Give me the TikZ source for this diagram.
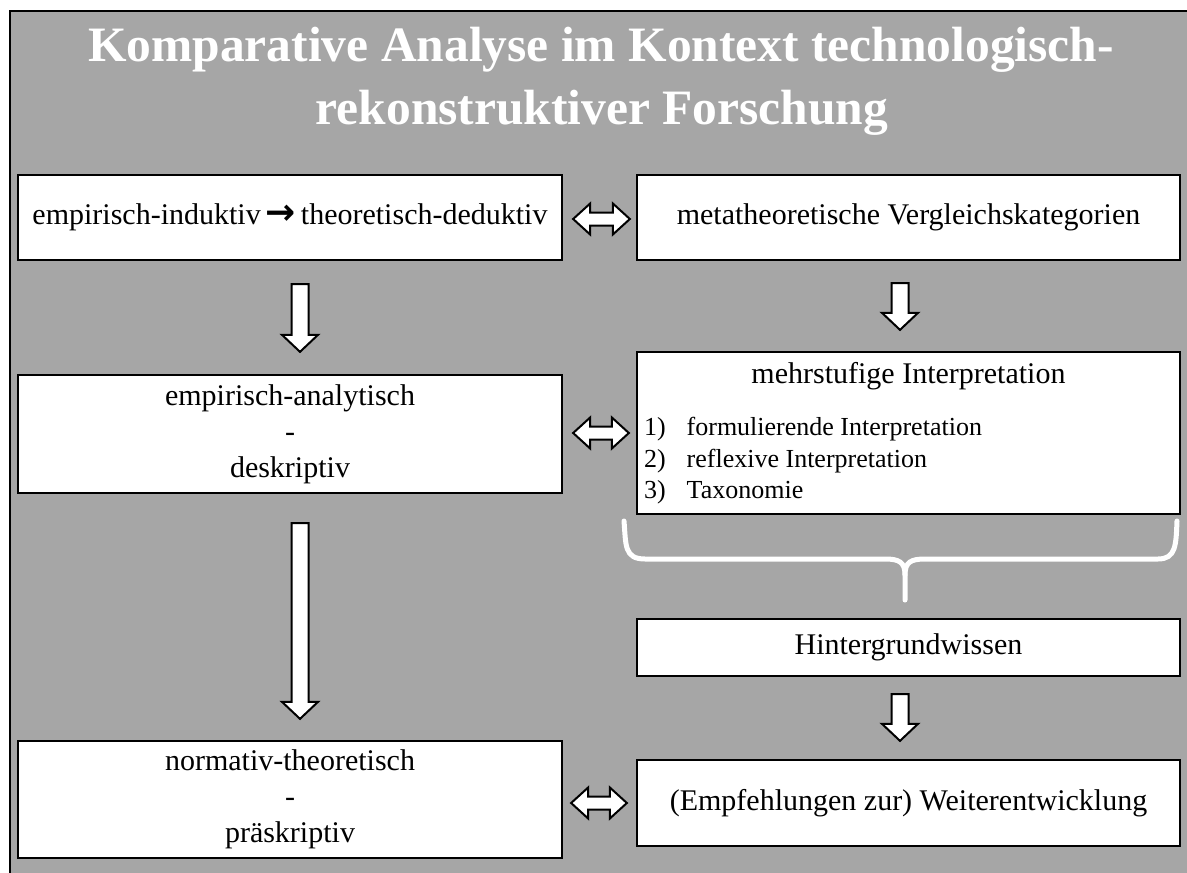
\documentclass[tikz,border=0pt]{standalone}
\usepackage{fontspec}
\setmainfont{Liberation Serif}
\newfontfamily\arrfont{DejaVu Sans}
\usetikzlibrary{calc}
\definecolor{bg}{HTML}{A6A6A6}
\tikzset{
  box/.style={draw=black, line width=2.3pt, fill=white, inner sep=0pt, align=center,
    font=\fontsize{30}{36}\selectfont},
  fatarrow/.style={draw=black, line width=2pt, fill=white, line join=miter},
  titletext/.style={text=white, font=\fontsize{49.5}{63}\selectfont\bfseries, inner sep=0pt},
  bracepath/.style={draw=white, line width=5pt, line cap=round, line join=round},
  listtext/.style={inner sep=0pt, font=\fontsize{26}{31.5}\selectfont},
}
\newcommand{\fatdown}[2]{\draw[fatarrow] let \p1=#1, \p2=#2 in
  (\x1-8.5pt,\y1) -- (\x1+8.5pt,\y1) -- (\x1+8.5pt,\y2+17pt) -- (\x1+18pt,\y2+17pt)
  -- (\x1,\y2) -- (\x1-18pt,\y2+17pt) -- (\x1-8.5pt,\y2+17pt) -- cycle;}
\newcommand{\fatboth}[2]{\draw[fatarrow] let \p1=#1, \p2=#2 in
  (\x1,\y1) -- (\x1+17pt,\y1+15.5pt) -- (\x1+17pt,\y1+6.5pt) -- (\x2-17pt,\y1+6.5pt)
  -- (\x2-17pt,\y1+15.5pt) -- (\x2,\y1) -- (\x2-17pt,\y1-15.5pt) -- (\x2-17pt,\y1-6.5pt)
  -- (\x1+17pt,\y1-6.5pt) -- (\x1+17pt,\y1-15.5pt) -- cycle;}
\begin{document}
\begin{tikzpicture}[x=1pt,y=-1pt]
\useasboundingbox (0,0) rectangle (1187,873);
\fill[white] (0,0) rectangle (1187,873);
\begin{scope}
  \clip (0,0) rectangle (1187,873);
  \draw[fill=bg, line width=2.3pt] (10,11) rectangle (1220,900);
\end{scope}

% title
\node[titletext, anchor=base] (t1) at (601,61) {Komparative Analyse im Kontext technologisch-};
\node[titletext, anchor=base] (t2) at (602,124) {rekonstruktiver Forschung};

% boxes
\node[box, minimum width=544pt, minimum height=85pt] (A) at (290,217.5)
  {empirisch-induktiv\,{\arrfont\bfseries\fontsize{36}{36}\selectfont →}\,theoretisch-deduktiv};
\node[box, minimum width=543pt, minimum height=85pt] (B) at (908.5,217.5)
  {metatheoretische Vergleichskategorien};
\node[box, minimum width=544pt, minimum height=118pt] (C) at (290,434)
  {empirisch-analytisch\\-\\deskriptiv};
\node[box, minimum width=543pt, minimum height=162pt] (D) at (908.5,433) {};
\node[box, draw=none, fill=none, anchor=base] (Dh) at ($(D.north)+(0,33)$)
  {mehrstufige Interpretation};
\node[listtext, anchor=base west] (Dl) at ($(D.north west)+(8,85)$)
  {\begin{tabular}[t]{@{}l@{\hspace{21pt}}l@{}}
   1) & formulierende Interpretation\\
   2) & reflexive Interpretation\\
   3) & Taxonomie
   \end{tabular}};
\node[box, minimum width=543pt, minimum height=57pt] (E) at (908.5,647.5)
  {Hintergrundwissen};
\node[box, minimum width=543pt, minimum height=86pt] (F) at (908.5,803)
  {(Empfehlungen zur) Weiterentwicklung};
\node[box, minimum width=544pt, minimum height=117pt] (G) at (290,799.5)
  {normativ-theoretisch\\-\\präskriptiv};

% block arrows
\fatboth{($(A.east)+(10,1.5)$)}{($(B.west)+(-6,1.5)$)}
\fatboth{($(C.east)+(10,-1)$)}{($(D.west)+(-7,0)$)}
\fatboth{($(G.east)+(8,3.5)$)}{($(F.west)+(-9,0)$)}
\fatdown{($(A.south)+(10,23)$)}{($(C.north)+(10,-22)$)}
\fatdown{($(C.south)+(10,29)$)}{($(G.north)+(10,-21)$)}
\fatdown{($(B.south)+(-8.5,22)$)}{($(D.north)+(-8.5,-21)$)}
\fatdown{($(E.south)+(-8.5,17)$)}{($(F.north)+(-8.5,-18)$)}

% brace
\draw[bracepath] (624,521) .. controls (626,545) and (624,559) .. (645,559)
  -- (885,559) .. controls (899,559) and (905,562) .. (905,575) -- (905,600);
\draw[bracepath] (905,575) .. controls (905,562) and (911,559) .. (925,559)
  -- (1158,559) .. controls (1176,559) and (1176,545) .. (1177,521);
\end{tikzpicture}
\end{document}
